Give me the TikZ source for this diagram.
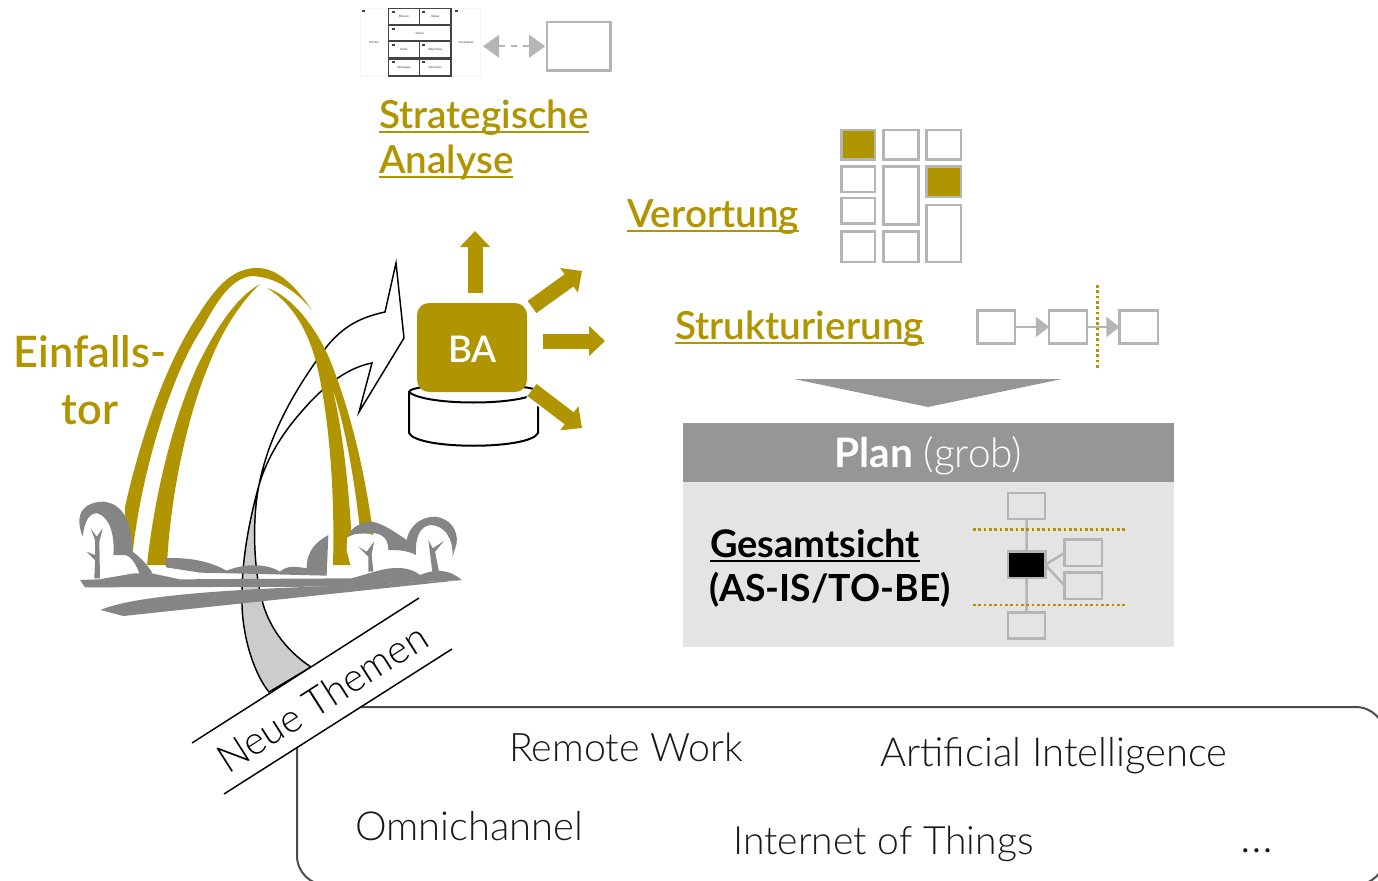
\documentclass[tikz,border=0pt]{standalone}
\usepackage{fontspec}
\usetikzlibrary{arrows.meta,calc}
\setmainfont{Lato Semibold}[BoldFont=Lato Bold]
\newfontfamily\lightf{Lato Light}
\definecolor{gold}{HTML}{B09400}
\definecolor{ground}{HTML}{858585}
\definecolor{boxgray}{HTML}{B5B5B5}
\definecolor{planhead}{HTML}{969696}
\definecolor{planbody}{HTML}{E4E4E4}
\definecolor{thumbline}{HTML}{444444}
\newsavebox{\ulbox}
\newcommand\ulx[1]{\sbox{\ulbox}{#1}\rlap{\rule[-0.14em]{\wd\ulbox}{0.055em}}\usebox{\ulbox}}
\newcommand\bx[6][]{%
 \pgfmathsetmacro\bxa{(#3+#5)/2}\pgfmathsetmacro\bxb{(#4+#6)/2}%
 \pgfmathsetmacro\bxw{(#5-#3-2.4)*0.75}\pgfmathsetmacro\bxh{(#6-#4-2.4)*0.75}%
 \node[gbox,minimum width=\bxw pt,minimum height=\bxh pt,#1] (#2) at (\bxa,\bxb) {};}
\tikzset{
 gbox/.style={draw=boxgray,line width=1.9pt,inner sep=0pt,outer sep=0pt},
 goldfill/.style={fill=gold,draw=none},
 groundfill/.style={fill=ground,draw=none},
 goldtext/.style={text=gold,inner sep=0pt,anchor=base west,font=\fontsize{29}{29}\selectfont},
 themetext/.style={inner sep=0pt,anchor=base west,text=black!90},
 blockarrow/.style={draw=gold,line width=11.25pt,-{Triangle[length=12pt,width=22pt,fill=gold]}},
 greyline/.style={draw=boxgray,line width=1.9pt},
 thinarrow/.style={draw=boxgray,line width=1.1pt,-{Triangle[length=10pt,width=15pt,fill=boxgray]}},
 golddots/.style={draw=gold,line width=2pt,dash pattern=on 2pt off 2pt},
 arrowline/.style={draw=black,line width=1.1pt},
 thumbtext/.style={font=\fontsize{2.2}{2.2}\selectfont,text=black!70,inner sep=0pt},
 thumbcell/.style={draw=thumbline,line width=1.2pt,inner sep=0pt,outer sep=0pt},
 thumbicon/.style={fill=black!75},
}
\begin{document}
\begin{tikzpicture}[x=0.75pt,y=-0.75pt]
\useasboundingbox (0,0) rectangle (1378,881);

% --- Neue Themen box
\node[draw=black!70,line width=1.5pt,rounded corners=22pt,inner sep=0pt,minimum width=816pt,minimum height=133.5pt] (themesbox) at (841,796) {};

% --- curved arrow
\path[fill=white,arrowline,line join=miter]
  (259,485) .. controls (268,440) and (290,395) .. (328,345)
  .. controls (345,325) and (362,317) .. (385,312)
  -- (396,263) -- (404,338) -- (359,412) -- (372,363)
  .. controls (345,368) and (320,390) .. (303,410)
  .. controls (285,430) and (268,455) .. (259,485) -- cycle;
\path[fill=black!20,arrowline]
  (259,485) .. controls (248,525) and (241,565) .. (242,605)
  .. controls (243,640) and (255,675) .. (269,692)
  -- (311,667)
  .. controls (285,650) and (268,625) .. (262,600)
  .. controls (255,575) and (251,525) .. (259,485) -- cycle;

% --- arch
\path[goldfill] (125,507) .. controls (140,440) and (165,365) .. (197,317)
  .. controls (215,288) and (232,268) .. (257,268)
  .. controls (280,268) and (298,290) .. (312,310)
  .. controls (295,290) and (275,277) .. (252,276)
  .. controls (230,278) and (215,305) .. (203,327)
  .. controls (172,372) and (142,470) .. (133,550)
  -- (125,550) -- cycle;
\path[goldfill] (260,284) .. controls (235,298) and (215,330) .. (197,367)
  .. controls (175,415) and (155,490) .. (147,565)
  -- (167,565)
  .. controls (170,500) and (186,420) .. (208,367)
  .. controls (220,335) and (238,305) .. (260,284) -- cycle;
\path[goldfill] (267,288) .. controls (290,295) and (315,325) .. (330,360)
  .. controls (350,410) and (365,470) .. (374,540)
  -- (361,540)
  .. controls (355,480) and (345,425) .. (332,387)
  .. controls (342,425) and (350,490) .. (353,565)
  -- (333,565)
  .. controls (335,490) and (329,420) .. (318,370)
  .. controls (310,335) and (295,305) .. (267,288) -- cycle;

\begin{scope}[shift={(60,250)},x=0.25pt,y=-0.25pt]
 % left bush
 \path[fill=white] (70,800) -- (160,800) -- (240,975) -- (70,990) -- cycle;
 \path[groundfill] (58,810) .. controls (60,770) and (95,755) .. (130,755)
   .. controls (180,760) and (215,800) .. (218,905)
   .. controls (245,925) and (262,945) .. (278,970) -- (240,975)
   .. controls (230,945) and (215,920) .. (195,915) -- (160,915)
   .. controls (165,860) and (150,800) .. (112,790)
   .. controls (90,790) and (75,805) .. (68,860)
   .. controls (60,840) and (58,825) .. (58,810) -- cycle;
 \path[groundfill] (103,985) -- (105,930) -- (80,905) -- (105,915) -- (105,870) -- (92,835) -- (110,860) -- (128,835) -- (118,875) -- (120,985) -- cycle;

 % right bush
 \path[fill=white] (862,862) .. controls (900,840) and (960,845) .. (985,900) -- (1065,915) .. controls (1060,850) and (1090,825) .. (1110,825) .. controls (1160,825) and (1180,860) .. (1178,920) -- (1135,960) -- (880,980) -- (860,900) -- cycle;
 \path[groundfill] (865,860) .. controls (870,830) and (910,815) .. (935,815)
   .. controls (970,820) and (1010,850) .. (1040,870)
   .. controls (1050,820) and (1090,800) .. (1125,800)
   .. controls (1170,805) and (1195,840) .. (1190,880) -- (1178,920)
   .. controls (1180,860) and (1150,825) .. (1110,825)
   .. controls (1080,830) and (1065,860) .. (1068,915)
   .. controls (1040,900) and (1010,900) .. (985,900)
   .. controls (985,860) and (960,845) .. (920,850)
   .. controls (890,850) and (870,855) .. (865,860) -- cycle;
 \path[groundfill] (925,965) -- (925,920) -- (895,890) -- (920,905) -- (942,875) -- (935,915) -- (940,965) -- cycle;
 \path[groundfill] (1117,965) -- (1105,870) -- (1118,895) -- (1152,873) -- (1125,905) -- (1137,965) -- cycle;

 % ground
 \path[groundfill] (60,990) -- (118,988) -- (222,970) -- (275,970) -- (360,988) -- (875,985) -- (945,965)
   .. controls (1000,948) and (1050,950) .. (1080,975)
   .. controls (1110,962) and (1160,950) .. (1205,990)
   -- (820,1010) -- (75,1012) -- cycle;
 \path[groundfill] (122,1080) .. controls (200,1045) and (420,1020) .. (825,1008) -- (1205,990) -- (190,1098) -- cycle;
 \path[groundfill] (315,925) .. controls (400,920) and (460,940) .. (500,962)
   .. controls (540,945) and (610,935) .. (660,965)
   .. controls (680,945) and (710,950) .. (740,955)
   .. controls (740,900) and (770,875) .. (805,855)
   -- (800,977) -- (600,972) -- (420,968) -- (318,952) -- cycle;
\end{scope}

% --- Neue Themen band
\coordinate (b1) at (192,743); \coordinate (b2) at (419,598);
\coordinate (b3) at (224,794); \coordinate (b4) at (452,649);
\path[fill=white] (b1) -- (b2) -- (b4) -- (b3) -- cycle;
\draw[arrowline] (b1) -- (b2);
\draw[arrowline] (b3) -- (b4);
\node[rotate=32.5,inner sep=0pt,font=\lightf\fontsize{29.5}{29.5}\selectfont,text=black] (neue) at (322,698) {Neue Themen};

\node[inner sep=0pt,anchor=base,text=gold,font=\fontsize{32.5}{32.5}\selectfont] (einf) at (90,367) {Einfalls-};
\node[inner sep=0pt,anchor=base,text=gold,font=\fontsize{32.5}{32.5}\selectfont] (tor) at (90,424) {tor};

% --- cylinder + BA
\path[fill=white,draw=black,line width=1.5pt] (409,392) .. controls (409,382) and (538,382) .. (538,392) -- (538,433)
  .. controls (530,450) and (417,450) .. (409,433) -- cycle;
\draw[black,line width=1.5pt] (409,392) .. controls (425,406) and (522,406) .. (538,392);
\node[fill=gold,rounded corners=9pt,minimum width=82.5pt,minimum height=66.75pt,inner sep=0pt] (ba) at (472,347.5) {};
\node[inner sep=0pt,anchor=base,text=white,font=\fontsize{27.5}{27.5}\selectfont] (balabel) at (472.5,362) {BA};

\coordinate (u0) at (475,293); \coordinate (u1) at (475,231);
\coordinate (r0) at (532,307); \coordinate (r1) at (582,271);
\coordinate (m0) at (543,341); \coordinate (m1) at (605,341);
\coordinate (d0) at (532,390); \coordinate (d1) at (582,428);
\draw[blockarrow] (u0) -- (u1);
\draw[blockarrow] (r0) -- (r1);
\draw[blockarrow] (m0) -- (m1);
\draw[draw=white,line width=14pt] (d0) -- ($(d0)!0.35!(d1)$);
\draw[blockarrow] (d0) -- (d1);

% --- thumbnail
\node[fill=white,draw=black!4,line width=0.6pt,minimum width=90pt,minimum height=51pt,inner sep=0pt] (thumb) at (420,42) {};
\bx[thumbcell]{t1}{387.3}{7.3}{420.7}{26.2}
\bx[thumbcell]{t2}{418.3}{7.3}{452.2}{26.2}
\bx[thumbcell]{t3}{387.3}{23.8}{452.2}{42.2}
\bx[thumbcell]{t4}{387.3}{39.8}{420.7}{59.2}
\bx[thumbcell]{t5}{418.3}{39.8}{452.2}{59.2}
\bx[thumbcell]{t6}{387.3}{58.3}{420.7}{77.2}
\bx[thumbcell]{t7}{418.3}{58.3}{452.2}{77.2}
\node[thumbtext] (tm) at (t1) {Mission};
\node[thumbtext] (tv) at (t2) {Values};
\node[thumbtext] (tvi) at (t3) {Vision};
\node[thumbtext] (tg) at (t4) {Goals};
\node[thumbtext] (to) at (t5) {Objectives};
\node[thumbtext] (ts) at (t6) {Strategies};
\node[thumbtext] (td) at (t7) {Directives};
\node[thumbtext] (tdr) at (374,42) {Drivers};
\node[thumbtext] (tco) at (466,42) {Constraints};
\foreach \ix/\iy in {392/11,422/11,392/28,392/44,422/44,392/61,422/61,455/10,362/10}
  \fill[thumbicon] (\ix,\iy) rectangle +(3,2.5);
\bx{thbox}{546}{21}{611.5}{71.5}
\draw[draw=boxgray,line width=1.2pt,dash pattern=on 5pt off 4pt,
  {Triangle[length=12pt,width=17pt,fill=boxgray]}-{Triangle[length=12pt,width=17pt,fill=boxgray]},shorten <=2pt,shorten >=1.5pt] (thumb.east |- thbox.west) -- (thbox.west);

% --- headings
\node[goldtext] (sa1) at (379,128) {\ulx{Strategische}};
\node[goldtext] (sa2) at (379,173) {\ulx{Analyse}};
\node[goldtext] (ver) at (627,227) {\ulx{Verortung}};
\node[goldtext] (str) at (675,339) {\ulx{Strukturierung}};

% --- Verortung grid
\bx[fill=gold]{g1}{840.5}{129}{876}{160.5}
\bx{g2}{882.5}{129}{919.5}{160.5}
\bx{g3}{925.5}{129}{962}{160.5}
\bx{g4}{840.5}{165.5}{876}{193}
\bx{g5}{840.5}{197}{876}{224.5}
\bx{g6}{840.5}{230.5}{876}{263}
\bx{g7}{882.5}{165.5}{919.5}{225.5}
\bx{g8}{882.5}{230.5}{919.5}{263}
\bx[fill=gold]{g9}{925.5}{165.5}{962}{198}
\bx{g10}{925.5}{204}{962}{263}

% --- Strukturierung chain
\bx{p1}{976.5}{309.5}{1016}{344.5}
\bx{p2}{1048}{309.5}{1088}{344.5}
\bx{p3}{1118.5}{309.5}{1159}{344.5}
\draw[thinarrow] (p1) -- (p2);
\coordinate (dt) at (1097.5,285); \coordinate (db) at (1097.5,369);
\draw[golddots] (dt) -- (db);
\draw[thinarrow] (p2) -- (p3);

% --- Plan
\path[fill=planhead] (794,379) -- (1062,379) -- (928,407) -- cycle;
\node[fill=planbody,minimum width=368.25pt,minimum height=123.75pt,inner sep=0pt] (pbody) at (928.5,564.5) {};
\node[fill=planhead,minimum width=368.25pt,minimum height=44.25pt,inner sep=0pt] (phead) at (928.5,452.5) {};
\node[inner sep=0pt,anchor=base,text=white,font=\fontsize{30.5}{30.5}\selectfont] (plan) at (928.5,467) {\textbf{Plan} {\lightf (grob)}};
\node[inner sep=0pt,anchor=base west,font=\bfseries\fontsize{28.5}{28.5}\selectfont] (ges) at (710,557) {\ulx{Gesamtsicht}};
\node[inner sep=0pt,anchor=base west,font=\bfseries\fontsize{28}{28}\selectfont] (asis) at (709,601.5) {(AS-IS/TO-BE)};

\coordinate (d1l) at (973,529.5); \coordinate (d1r) at (1125,529.5);
\coordinate (d2l) at (973,605); \coordinate (d2r) at (1125,605);
\bx{s1}{1007}{492}{1046}{520}
\bx[fill=black]{s2}{1007}{550.5}{1046.5}{579}
\bx{s3}{1007}{611.5}{1046}{639.5}
\bx{s4}{1063.5}{538.5}{1103}{567}
\bx{s5}{1063.5}{571.5}{1103}{600}
\draw[greyline] (s1) -- (s2);
\draw[greyline] (s2) -- (s3);
\draw[greyline] (s2.east) -- (s4.west);
\draw[greyline] (s2.east) -- (s5.west);
\draw[golddots] (d1l) -- (d1r);
\draw[golddots] (d2l) -- (d2r);

% --- topics
\node[themetext,font=\lightf\fontsize{29.5}{29.5}\selectfont] (rw) at (509,761.5) {Remote Work};
\node[themetext,font=\lightf\fontsize{30}{30}\selectfont] (ai) at (880,766) {Artificial Intelligence};
\node[themetext,font=\lightf\fontsize{30}{30}\selectfont] (om) at (355,840) {Omnichannel};
\node[themetext,font=\lightf\fontsize{29.3}{29.3}\selectfont] (iot) at (733,854) {Internet of Things};
\node[themetext,font=\lightf\fontsize{34}{34}\selectfont] (dots) at (1240,852) {…};
\end{tikzpicture}
\end{document}
